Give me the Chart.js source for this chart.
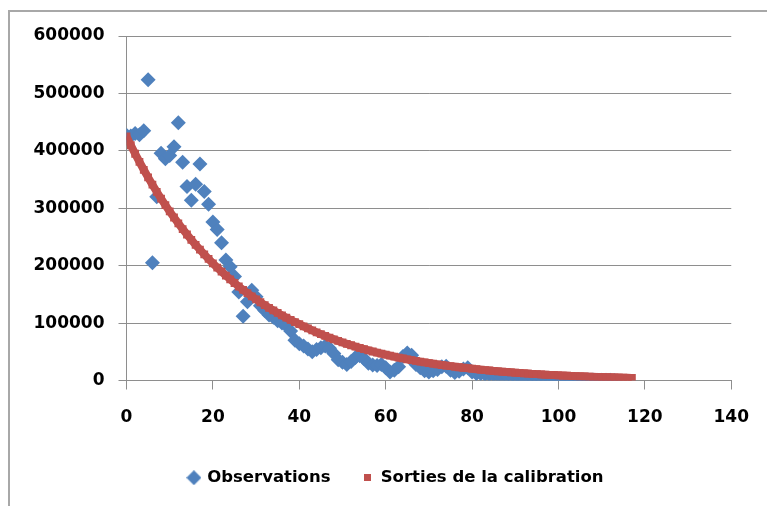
<!DOCTYPE html>
<html><head><meta charset="utf-8">
<script src="https://cdn.jsdelivr.net/npm/chart.js@4/dist/chart.umd.min.js"></script>
<style>html,body{margin:0;padding:0;background:#fff;}canvas{display:block;}</style>
</head><body>
<canvas id="c" width="767" height="506"></canvas>
<script>
const seriesNames = ['Observations', 'Sorties de la calibration'];
const xTicks = [0, 20, 40, 60, 80, 100, 120, 140];
const yTicks = [0, 100000, 200000, 300000, 400000, 500000, 600000];

const obsX = [0,1,2,3,4,5,6,7,8,9,10,11,12,13,14,15,16,17,18,19,20,21,22,23,24,25,26,27,28,29,
  30,31,32,33,34,35,36,37,38,39,40,41,42,43,44,45,46,47,48,49,50,51,52,53,54,55,56,57,58,59,
  60,61,62,63,64,65,66,67,68,69,70,71,72,73,74,75,76,77,78,79,80,81,82,83,84,85,86,87,88,89,
  90,91,92,93,94,95,96,97,98,99,100,101,102,103,104,105,106,107,108,109,110,111,112,113];
const obsY = [427000,426000,430000,428000,435000,524000,205000,320000,396000,386000,
  392000,407000,449000,380000,338000,314000,342000,377000,329000,307000,
  276000,263000,240000,210000,198000,181000,154000,112000,137000,157000,
  146000,130000,122000,114000,110000,104000,100000,96000,86000,70000,
  64000,60000,55000,50000,54000,57000,60000,56000,47000,36000,
  32000,28000,33000,40000,43000,38000,30000,27000,26000,28000,
  22000,15000,18000,24000,42000,48000,44000,28000,22000,17000,
  15000,17000,19000,24000,25000,18000,14000,16000,20000,22000,
  15000,12000,12000,11000,10500,10000,9500,9000,8500,7500,
  6500,6000,5500,5000,4500,4000,3500,3200,2800,2500,
  2000,1800,1600,1400,1200,1000,900,800,700,600,
  500,400,300,200];

const calX = [0,1,2,3,4,5,6,7,8,9,10,11,12,13,14,15,16,17,18,19,20,21,22,23,24,25,26,27,28,29,
  30,31,32,33,34,35,36,37,38,39,40,41,42,43,44,45,46,47,48,49,50,51,52,53,54,55,56,57,58,59,
  60,61,62,63,64,65,66,67,68,69,70,71,72,73,74,75,76,77,78,79,80,81,82,83,84,85,86,87,88,89,
  90,91,92,93,94,95,96,97,98,99,100,101,102,103,104,105,106,107,108,109,110,111,112,113,114,115,116,117];
const calY = [425000,409700,394900,380700,367000,353800,341000,328700,316900,305500,
  294500,283900,273600,263800,254300,245100,236300,227800,219600,211700,
  204000,196700,189600,182800,176200,169800,163700,157800,152100,146700,
  141400,136300,131400,126600,122100,117700,113400,109400,105400,101600,
  98000,94300,90700,87200,83800,80600,77600,74600,71700,69000,
  66300,63800,61400,59000,56800,54600,52500,50500,48600,46700,
  44900,43200,41500,39900,38400,36900,35500,34200,32900,31600,
  30400,29200,28100,27000,26000,25000,24000,23100,22200,21400,
  20500,19700,18900,18100,17400,16700,16000,15400,14800,14200,
  13600,13100,12500,12000,11500,11100,10600,10200,9800,9400,
  9000,8600,8300,8000,7600,7300,7000,6700,6500,6200,
  6000,5700,5500,5300,5100,4900,4700,4500];

const BLUE = '#4F81BD';
const RED = '#C0504D';
const GRID = '#8e8e8e';
const FONT = "'DejaVu Sans', sans-serif";

function legendDiamond() {
  const c = document.createElement('canvas'); c.width = 15; c.height = 15;
  const g = c.getContext('2d'); g.fillStyle = BLUE;
  g.beginPath(); g.moveTo(7.5, 0); g.lineTo(15, 7.5); g.lineTo(7.5, 15); g.lineTo(0, 7.5); g.closePath(); g.fill();
  return c;
}
function legendSquare() {
  const c = document.createElement('canvas'); c.width = 7; c.height = 7;
  const g = c.getContext('2d'); g.fillStyle = RED; g.fillRect(0, 0, 7, 7);
  return c;
}
const legendIcons = [legendDiamond(), legendSquare()];

const framePlugin = {
  id: 'frame',
  afterLayout(chart) {
    if (chart.legend) { chart.legend.left = 57.5; }
  },
  beforeDraw(chart) {
    const ctx = chart.ctx;
    ctx.save();
    ctx.fillStyle = '#fff';
    ctx.fillRect(0, 0, chart.width, chart.height);
    ctx.strokeStyle = '#a8a8a8';
    ctx.lineWidth = 2;
    ctx.beginPath();
    ctx.moveTo(9, chart.height + 2);
    ctx.lineTo(9, 11);
    ctx.lineTo(chart.width + 2, 11);
    ctx.stroke();
    ctx.restore();
  }
};

new Chart(document.getElementById('c'), {
  type: 'scatter',
  data: {
    datasets: [
      {
        label: seriesNames[0],
        data: obsX.map((x, i) => ({x, y: obsY[i]})),
        pointStyle: 'rectRot',
        pointRadius: 7.5,
        borderWidth: 0,
        backgroundColor: BLUE,
        borderColor: BLUE,
        order: 1
      },
      {
        label: seriesNames[1],
        data: calX.map((x, i) => ({x, y: calY[i]})),
        showLine: true,
        borderWidth: 8,
        borderColor: RED,
        pointStyle: 'rect',
        pointRadius: 5.5,
        pointBorderWidth: 0,
        pointBackgroundColor: RED,
        backgroundColor: RED,
        order: 0
      }
    ]
  },
  options: {
    responsive: false,
    animation: false,
    events: [],
    layout: { padding: { left: 10, right: 32, top: 36, bottom: 10 } },
    plugins: {
      tooltip: { enabled: false },
      legend: {
        position: 'bottom',
        labels: {
          usePointStyle: true,
          boxWidth: 10,
          padding: 32,
          color: '#000',
          font: { family: FONT, size: 16.5, weight: 'bold' },
          generateLabels: () => seriesNames.map((n, i) => ({
            text: n, pointStyle: legendIcons[i], fillStyle: i ? RED : BLUE,
            strokeStyle: i ? RED : BLUE, lineWidth: 0, hidden: false, datasetIndex: i
          }))
        }
      }
    },
    scales: {
      x: {
        type: 'linear', min: 0, max: 140,
        afterBuildTicks: s => { s.ticks = xTicks.map(v => ({value: v})); },
        afterFit: s => { s.height = 57; },
        border: { color: GRID, width: 1 },
        grid: { drawOnChartArea: false, drawTicks: true, tickLength: 9, color: GRID },
        ticks: { padding: 18, color: '#000', font: { family: FONT, size: 17, weight: 'bold' }, maxRotation: 0, callback: v => String(v) }
      },
      y: {
        type: 'linear', min: 0, max: 600000,
        afterBuildTicks: s => { s.ticks = yTicks.map(v => ({value: v})); },
        afterFit: s => { s.width = 116.5; },
        border: { color: GRID, width: 1 },
        grid: { color: GRID, tickLength: 8 },
        ticks: { padding: 14, color: '#000', font: { family: FONT, size: 17, weight: 'bold' }, callback: v => String(v) }
      }
    }
  },
  plugins: [framePlugin]
});
</script>
</body></html>
